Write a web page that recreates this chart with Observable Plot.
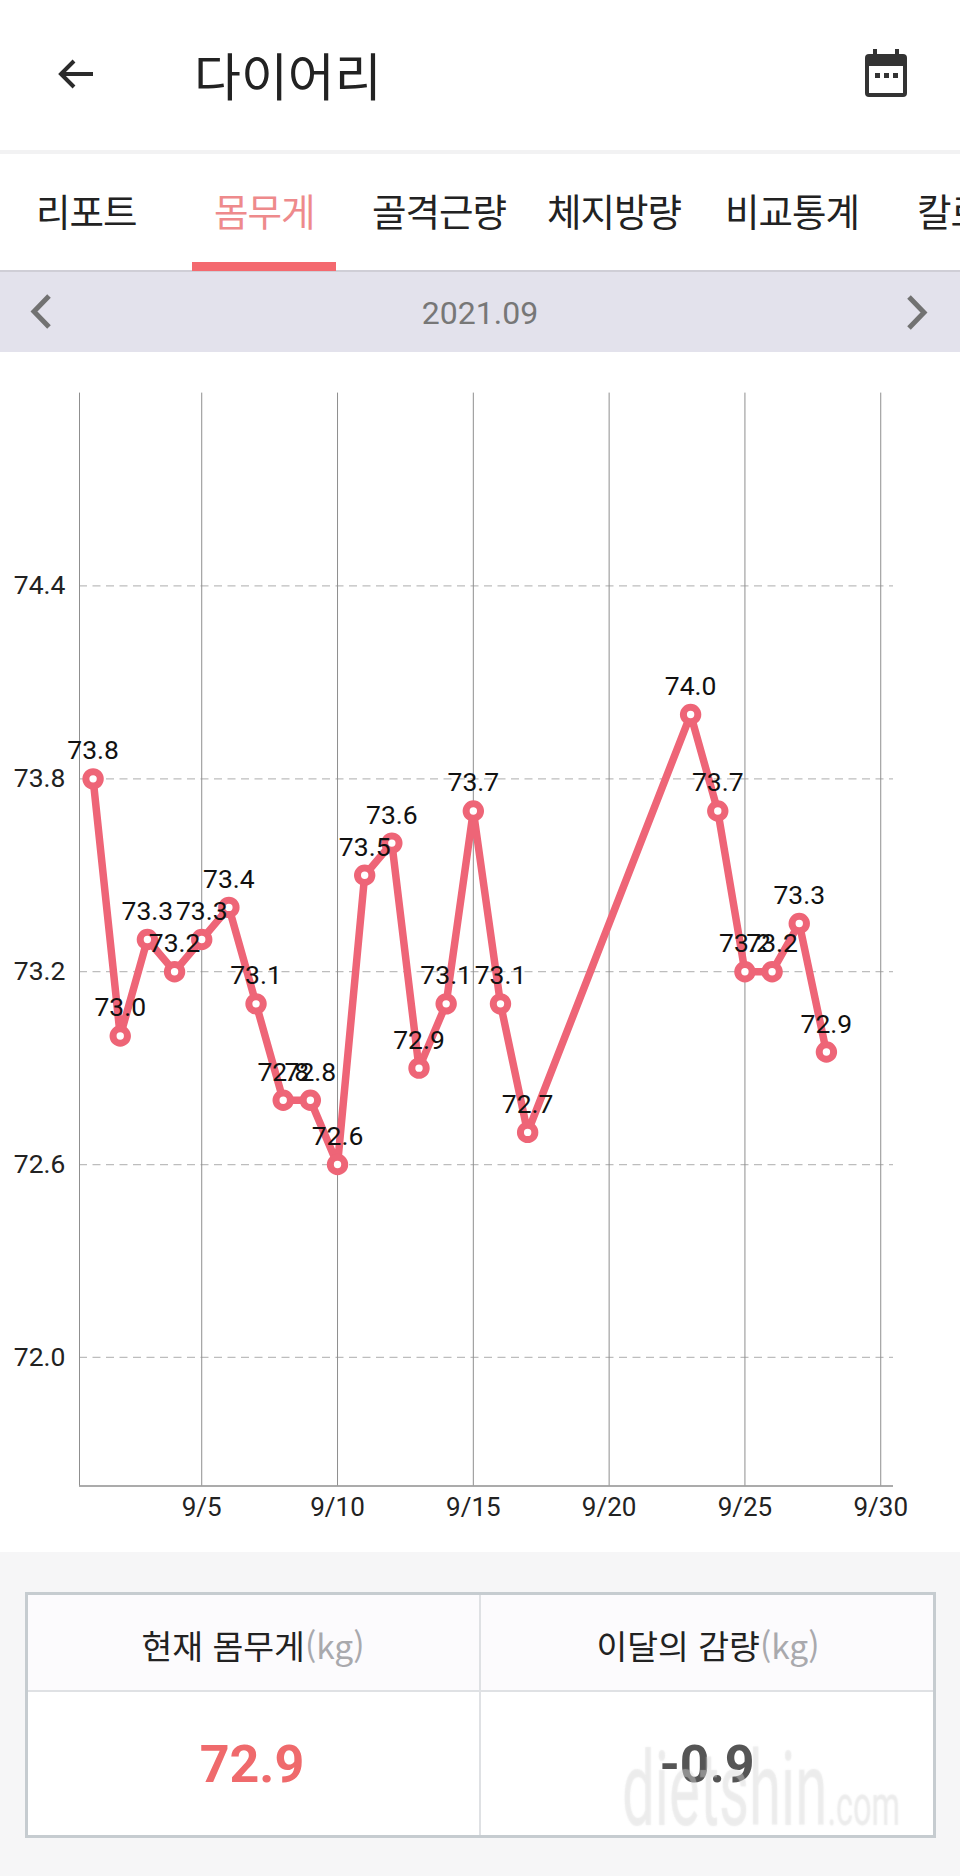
<!DOCTYPE html>
<html lang="ko">
<head>
<meta charset="utf-8">
<script src="https://cdn.jsdelivr.net/npm/d3@7"></script>
<script src="https://cdn.jsdelivr.net/npm/@observablehq/plot@0.6"></script>
<style>
html,body{margin:0;padding:0;background:#fff}
#page{position:relative;width:960px;height:1876px;overflow:hidden;background:#f6f6f7;font-family:"Noto Sans CJK KR","Noto Sans",sans-serif;color:#222}
#page>*{position:absolute}
.t{white-space:nowrap;line-height:1}
.c{transform:translate(-50%,-50%)}
</style>
</head>
<body>
<div id="page">
  <div style="left:0;top:0;width:960px;height:270px;background:#fff"></div>
  <div style="left:0;top:150px;width:960px;height:4px;background:#f2f2f3"></div>
  <svg style="left:57px;top:56px" width="40" height="36" viewBox="0 0 40 36" fill="none" stroke="#2b2b2b" stroke-width="4"><path d="M36 18H5M17 5L4 18L17 31"/></svg>
  <div class="t" style="left:194px;top:49px;font-size:51px;color:#222">다이어리</div>
  <svg style="left:864px;top:49px" width="44" height="49" viewBox="0 0 44 49"><rect x="1" y="5" width="42" height="43" rx="4" fill="#333"/><rect x="5" y="17" width="34" height="27" fill="#fff"/><rect x="9" y="0" width="4" height="8" fill="#333"/><rect x="31" y="0" width="4" height="8" fill="#333"/><rect x="11" y="24" width="5" height="5" fill="#333"/><rect x="20" y="24" width="5" height="5" fill="#333"/><rect x="29" y="24" width="5" height="5" fill="#333"/></svg>
  <div id="tabs"></div>
  <div style="left:0;top:270px;width:960px;height:82px;background:#e3e2ec;border-top:2px solid #cfced6;box-sizing:border-box"></div>
  <div style="left:192px;top:262px;width:144px;height:9px;background:#f4696f"></div>
  <svg style="left:29px;top:294px" width="24" height="35" viewBox="0 0 24 35" fill="none" stroke="#727272" stroke-width="5"><path d="M20 2L5 17.5L20 33"/></svg>
  <svg style="left:905px;top:295px" width="24" height="35" viewBox="0 0 24 35" fill="none" stroke="#727272" stroke-width="5"><path d="M4 2L19 17.5L4 33"/></svg>
  <div class="t c" style="left:480px;top:313px;font-family:Roboto;font-size:32px;color:#777">2021.09</div>
  <div id="chart" style="left:0;top:352px;width:960px;height:1200px;background:#fff"></div>

  <div style="left:25px;top:1592px;width:911px;height:246px;background:#fff;border:3px solid #c6ccd0;box-sizing:border-box"></div>
  <div style="left:28px;top:1595px;width:905px;height:95px;background:#fcfbfd"></div>
  <div style="left:28px;top:1690px;width:905px;height:2px;background:#dfe1e4"></div>
  <div style="left:479px;top:1595px;width:2px;height:240px;background:#dfe1e4"></div>
  <div class="t c" style="left:253px;top:1645px;font-size:33.5px;color:#222">현재 몸무게<span style="color:#a9a9ad">(kg)</span></div>
  <div class="t c" style="left:708px;top:1645px;font-size:33.5px;color:#222">이달의 감량<span style="color:#a9a9ad">(kg)</span></div>
  <div class="t c" style="left:252px;top:1765px;font-family:Roboto;font-weight:700;font-size:52px;color:#ef6a6c">72.9</div>
  <div class="t c" style="left:707px;top:1765px;font-family:Roboto;font-weight:700;font-size:52px;color:#555">-0.9</div>
  <div class="t" style="left:622px;top:1738px;font-family:Roboto;font-size:104px;color:rgba(240,240,240,.22);text-shadow:0 0 2px rgba(190,190,190,.3);transform:scaleX(.56);transform-origin:left top">dietshin<span style="font-size:58px">.com</span></div>
</div>
<script>
const days = [1,2,3,4,5,6,7,8,9,10,11,12,13,14,15,16,17,23,24,25,26,27,28];
const weights = [73.8,73.0,73.3,73.2,73.3,73.4,73.1,72.8,72.8,72.6,73.5,73.6,72.9,73.1,73.7,73.1,72.7,74.0,73.7,73.2,73.2,73.35,72.95];
const labels = ["73.8","73.0","73.3","73.2","73.3","73.4","73.1","72.8","72.8","72.6","73.5","73.6","72.9","73.1","73.7","73.1","72.7","74.0","73.7","73.2","73.2","73.3","72.9"];
const xTicks = [5,10,15,20,25,30];
const yTicks = [72.0,72.6,73.2,73.8,74.4];
const tabNames = ["리포트","몸무게","골격근량","체지방량","비교통계","칼로리"];
const tabLefts = [36,214,372,547,725,917];

const page = document.getElementById("tabs").parentNode;
tabNames.forEach((name,i)=>{
  const d=document.createElement("div");
  d.className="t";
  d.textContent=name;
  d.style.cssText=`left:${tabLefts[i]}px;top:191px;font-size:37.5px;letter-spacing:-1px;color:${i===1?"#ee8a8c":"#222"}`;
  page.appendChild(d);
});

const table = days.map((day,i)=>({day,weight:weights[i],label:labels[i]}));
const xMin = 0.5, xMax = 30.47, yMin = 71.6, yMax = 75.0;
const plot = Plot.plot({
  width:960, height:1200,
  marginLeft:79, marginRight:67, marginTop:40.6, marginBottom:66.5,
  style:{fontFamily:"Roboto",background:"transparent",color:"#222",overflow:"visible"},
  x:{domain:[xMin,xMax],label:null},
  y:{domain:[yMin,yMax],label:null},
  marks:[
    Plot.ruleY(yTicks,{stroke:"#bdbdbd",strokeWidth:1.3,strokeDasharray:"8 5.5"}),
    Plot.ruleX(xTicks,{stroke:"#8f8f8f",strokeWidth:1}),
    Plot.ruleX([xMin],{stroke:"#8f8f8f",strokeWidth:1}),
    Plot.ruleY([yMin],{stroke:"#8f8f8f",strokeWidth:1.5}),
    Plot.axisX({ticks:xTicks,tickFormat:d=>`9/${d}`,tickSize:0,tickPadding:12,fontSize:26,label:null,fill:"#222"}),
    Plot.axisY({ticks:yTicks,tickFormat:d=>d.toFixed(1),tickSize:0,tickPadding:14,fontSize:26.5,label:null,fill:"#222"}),
    Plot.line(table,{x:"day",y:"weight",stroke:"#ee6577",strokeWidth:7.5,curve:"linear"}),
    Plot.dot(table,{x:"day",y:"weight",r:7.2,fill:"#fff",stroke:"#ee6577",strokeWidth:7}),
    Plot.text(table,{x:"day",y:"weight",text:"label",dy:-28,fontSize:26.5,fill:"#111"})
  ]
});
document.getElementById("chart").appendChild(plot);
</script>
</body>
</html>
